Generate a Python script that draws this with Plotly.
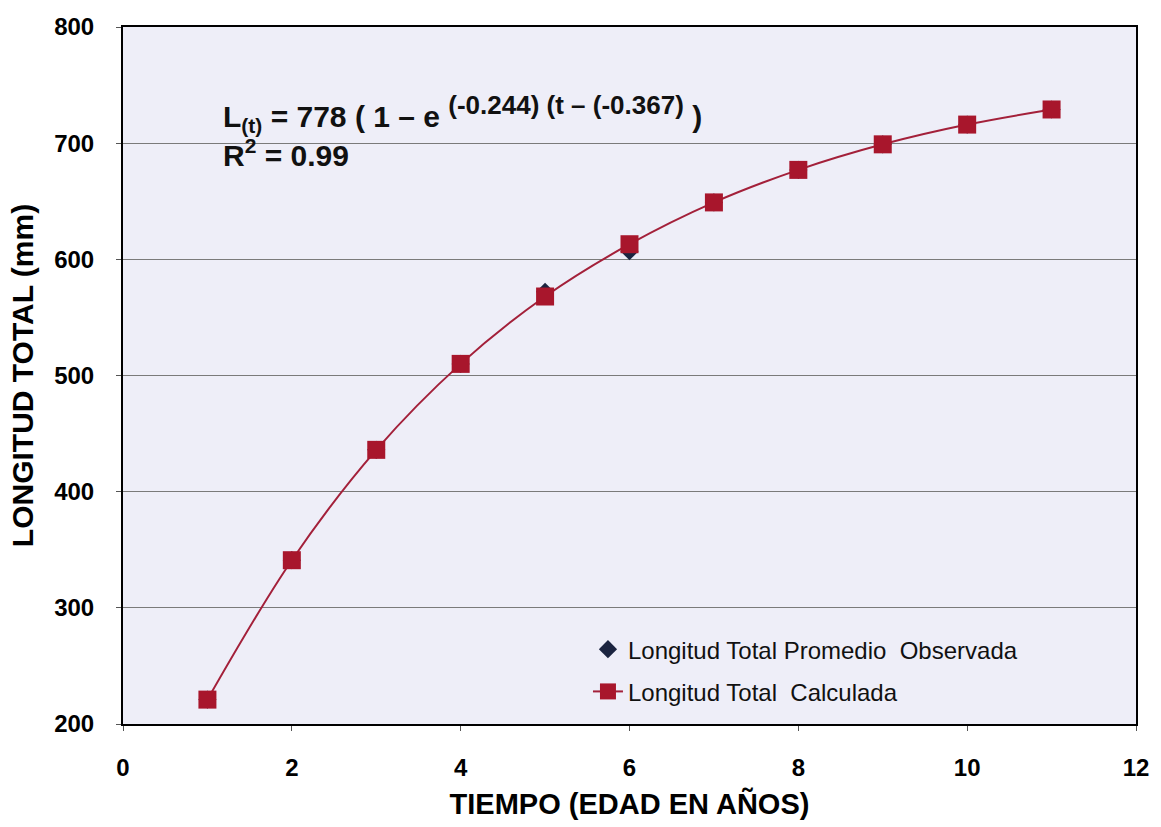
import plotly.graph_objects as go

edad = [1, 2, 3, 4, 5, 6, 7, 8, 9, 10, 11]
longitud_observada = [221, 341, 436, 510, 572, 607, 649, 677, 699, 716, 729]
longitud_calculada = [221, 341, 436, 510, 568, 613, 649, 677, 699, 716, 729]
x_ticks = [0, 2, 4, 6, 8, 10, 12]
y_ticks = [200, 300, 400, 500, 600, 700, 800]

font_family = "Liberation Sans, Arial, sans-serif"

fig = go.Figure()
fig.add_trace(go.Scatter(
    x=edad, y=longitud_observada, mode="markers",
    name="Longitud Total Promedio  Observada", legendgroup="obs",
    marker=dict(symbol="diamond", size=14, color="#1b2440"),
))
fig.add_trace(go.Scatter(
    x=edad, y=longitud_calculada, mode="lines+markers",
    name="Longitud Total  Calculada", legendgroup="calc",
    line=dict(color="#a3203a", width=2, shape="spline"),
    marker=dict(symbol="square", size=18, color="#a8162c"),
))

fig.update_layout(
    width=1161, height=827,
    margin=dict(l=123, r=19, t=27, b=102),
    paper_bgcolor="white",
    plot_bgcolor="#eeeef8",
    font=dict(family=font_family, color="black"),
    showlegend=True,
    legend=dict(
        x=0.459, y=0.139, xanchor="left", yanchor="top",
        bgcolor="rgba(0,0,0,0)", borderwidth=0,
        font=dict(size=24, family=font_family, color="#111"),
        tracegroupgap=8,
    ),
    annotations=[dict(
        x=0.097, y=0.913, xref="paper", yref="paper", xanchor="left", yanchor="top",
        align="left", showarrow=False,
        text=("<b>L<sub>(t)</sub> = 778 ( 1 – e "
              "<sup><span style='font-size:26px'>(-0.244) (t – (-0.367)</span></sup> )</b>"
              "<br><b>R<sup>2</sup> = 0.99</b>"),
        font=dict(size=30, family=font_family, color="#111"),
    )],
)

fig.update_xaxes(
    range=[0, 12], tickvals=x_ticks, ticktext=[f"<b>{v}</b>" for v in x_ticks],
    showgrid=False, zeroline=False,
    showline=True, linecolor="black", linewidth=2, mirror=True,
    ticks="outside", ticklen=5, tickcolor="#555",
    ticklabelstandoff=16,
    tickfont=dict(size=24, family=font_family, color="black"),
    title=dict(text="<b>TIEMPO (EDAD EN AÑOS)</b>", font=dict(size=29, family=font_family), standoff=14),
)
fig.update_yaxes(
    range=[200, 800], tickvals=y_ticks, ticktext=[f"<b>{v}</b>" for v in y_ticks],
    showgrid=True, gridcolor="#7a7a7a", gridwidth=1, zeroline=False,
    showline=True, linecolor="black", linewidth=2, mirror=True,
    ticks="outside", ticklen=5, tickcolor="#555",
    ticklabelstandoff=17,
    tickfont=dict(size=24, family=font_family, color="black"),
    title=dict(text="<b>LONGITUD TOTAL (mm)</b>", font=dict(size=30, family=font_family), standoff=12),
)

fig.write_html("out.html")
